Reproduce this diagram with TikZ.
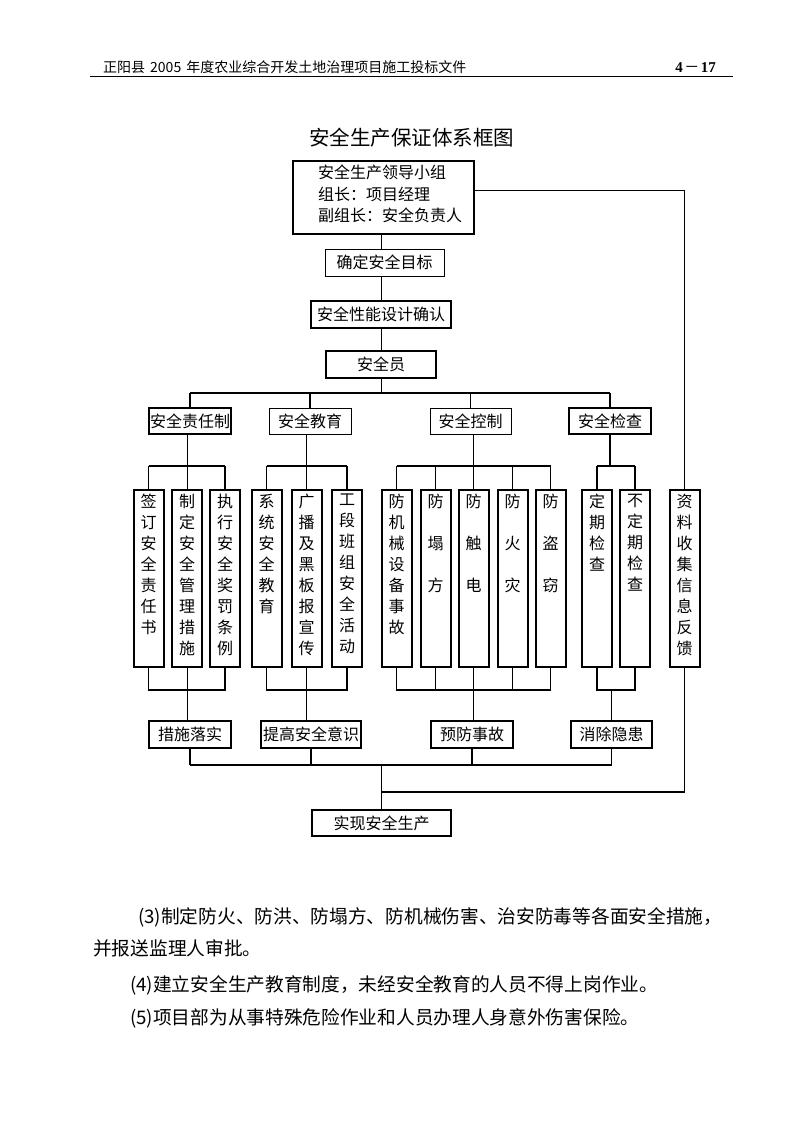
\documentclass[tikz,border=0pt]{standalone}
\usepackage{fontspec}
\setmainfont{Noto Sans CJK SC}
\newfontfamily\serifd{Liberation Serif}
\XeTeXlinebreaklocale "zh"
\XeTeXlinebreakskip=0pt plus 3pt
\tikzset{
  thk/.style={draw, line width=2pt, inner sep=0pt, font=\fontsize{16}{19}\selectfont},
  thn/.style={draw, line width=1pt, inner sep=0pt, font=\fontsize{16}{19}\selectfont},
  vcol/.style={draw, line width=2pt, inner sep=0pt, minimum width=30, minimum height=177},
  vtxt/.style={font=\fontsize{16}{21}\selectfont, align=center, inner sep=0pt, anchor=north},
  cthk/.style={line width=1.8pt},
  cthn/.style={line width=1pt},
  body/.style={anchor=base west, inner sep=0pt, font=\fontsize{18.7}{22}\selectfont}
}
\begin{document}
\begin{tikzpicture}[x=1pt,y=-1pt]
\useasboundingbox[fill=white] (0,0) rectangle (794,1123);

% header
\node[anchor=base west, inner sep=0pt, font=\fontsize{14}{16}\selectfont] (hdr) at (103,73) {正阳县\hspace{5pt}2005\hspace{5pt}年度农业综合开发土地治理项目施工投标文件};
\node[anchor=base east, inner sep=0pt, font=\fontsize{15}{17}\selectfont] (pg) at (716,73) {{\serifd\bfseries 4}{\kern1.5pt}－{\kern1.5pt}{\serifd\bfseries 17}};
\draw[line width=1.3pt] (90,76.5) -- (733,76.5);

% title
\node[inner sep=0pt, font=\fontsize{20.5}{24}\selectfont] (title) at (411.5,138) {安全生产保证体系框图};

% top chain
\node[thk, minimum width=181, minimum height=73] (top) at (383.5,197.5) {};
\node[anchor=west, align=left, inner sep=0pt, font=\fontsize{16}{21.5}\selectfont] (toptxt) at (318,194) {安全生产领导小组\\组长：项目经理\\副组长：安全负责人};
\node[thn, minimum width=119, minimum height=27] (mb1) at (384.5,262.5) {确定安全目标};
\node[thk, minimum width=140, minimum height=27] (mb2) at (381,314.5) {安全性能设计确认};
\node[thk, minimum width=110, minimum height=27] (mb3) at (381,364.5) {安全员};

% level 2
\node[thk, minimum width=82, minimum height=26] (l1) at (190,421) {安全责任制};
\node[thn, minimum width=82, minimum height=26] (l2) at (310,421) {安全教育};
\node[thn, minimum width=81, minimum height=26] (l3) at (470.5,421) {安全控制};
\node[thk, minimum width=82, minimum height=26] (l4) at (610,421) {安全检查};

% vertical columns
\foreach \n/\x/\t in {
  v11/148.5/{签\\订\\安\\全\\责\\任\\书},
  v12/187/{制\\定\\安\\全\\管\\理\\措\\施},
  v13/225/{执\\行\\安\\全\\奖\\罚\\条\\例},
  v21/266.5/{系\\统\\安\\全\\教\\育},
  v22/306.5/{广\\播\\及\\黑\\板\\报\\宣\\传},
  v23/347/{工\\段\\班\\组\\安\\全\\活\\动},
  v31/396.5/{防\\机\\械\\设\\备\\事\\故},
  v32/435.5/{防\\[21pt]塌\\[21pt]方},
  v33/473.5/{防\\[21pt]触\\[21pt]电},
  v34/512.5/{防\\[21pt]火\\[21pt]灾},
  v35/550.5/{防\\[21pt]盗\\[21pt]窃},
  v41/597/{定\\期\\检\\查},
  v42/635/{不\\定\\期\\检\\查},
  zl/684.5/{资\\料\\收\\集\\信\\息\\反\\馈}}{
  \node[vcol] (\n) at (\x,578.5) {};
  \node[vtxt] (\n t) at (\x,494) {\t};
}

% level 4
\node[thk, minimum width=82, minimum height=27] (b1) at (190,734.5) {措施落实};
\node[thk, minimum width=100, minimum height=27] (b2) at (311,734.5) {提高安全意识};
\node[thk, minimum width=82, minimum height=27] (b3) at (472,734.5) {预防事故};
\node[thk, minimum width=81, minimum height=27] (b4) at (611.5,734.5) {消除隐患};
\node[thk, minimum width=139, minimum height=26] (fin) at (381.5,823) {实现安全生产};

% bus coordinates
\coordinate (busA) at (381,393);
\coordinate (busB) at (381,466);
\coordinate (busC) at (381,690);
\coordinate (busD) at (381,765);
\coordinate (busE) at (381,792);
\coordinate (fbT) at (684.5,191);

% top chain connectors
\draw[cthn] (top.south -| mb3) -- (mb1.north -| mb3);
\draw[cthn] (mb1.south -| mb3) -- (mb2.north);
\draw[cthn] (mb2.south) -- (mb3.north);
\draw[cthn] (mb3.south) -- (busA);
\draw[cthk] (l1.north |- busA) -- (l4.north |- busA);
\foreach \l in {l1,l2,l3,l4} \draw[cthk] (\l.north |- busA) -- (\l.north);

% feedback from top
\draw[cthn] (top.east |- fbT) -- (fbT) -- (zl.north);

% group 1
\draw[cthn] (l1.south -| v12) -- (v12.north);
\draw[cthk] (v11.north |- busB) -- (v13.north |- busB);
\draw[cthk] (v11.north |- busB) -- (v11.north);
\draw[cthk] (v13.north |- busB) -- (v13.north);
% group 2
\draw[cthk] (l2.south -| v22) -- (v22.north);
\draw[cthk] (v21.north |- busB) -- (v23.north |- busB);
\draw[cthk] (v21.north |- busB) -- (v21.north);
\draw[cthk] (v23.north |- busB) -- (v23.north);
% group 3
\draw[cthk] (l3.south -| v33) -- (v33.north);
\draw[cthk] (v31.north |- busB) -- (v35.north |- busB);
\foreach \v in {v31,v32,v34,v35} \draw[cthk] (\v.north |- busB) -- (\v.north);
% group 4
\draw[cthk] (l4.south) -- (l4.south |- busB);
\draw[cthk] (v41.north |- busB) -- (v42.north |- busB);
\draw[cthk] (v41.north |- busB) -- (v41.north);
\draw[cthk] (v42.north |- busB) -- (v42.north);

% lower buses
\draw[cthk] (v11.south) -- (v11.south |- busC) -- (v13.south |- busC) -- (v13.south);
\draw[cthn] (v12.south) -- (b1.north -| v12);
\draw[cthk] (v21.south) -- (v21.south |- busC) -- (v23.south |- busC) -- (v23.south);
\draw[cthk] (v22.south) -- (b2.north -| v22);
\draw[cthk] (v31.south) -- (v31.south |- busC) -- (v35.south |- busC) -- (v35.south);
\foreach \v in {v32,v34} \draw[cthk] (\v.south) -- (\v.south |- busC);
\draw[cthk] (v33.south) -- (b3.north -| v33);
\draw[cthk] (v41.south) -- (v41.south |- busC) -- (v42.south |- busC) -- (v42.south);
\draw[cthk] (b4.north) -- (b4.north |- busC);

% bottom bus
\draw[cthk] (b1.south |- busD) -- (b4.south |- busD);
\foreach \b in {b1,b2,b3,b4} \draw[cthk] (\b.south) -- (\b.south |- busD);
\draw[cthn] (busD) -- (fin.north |- busD) -- (fin.north);
\draw[cthk] (zl.south) -- (zl.south |- busE) -- (fin.north |- busE);

% body text
\node[body] (p1) at (138,923) {\makebox[597pt][s]{(3)制定防火、防洪、防塌方、防机械伤害、治安防毒等各面安全措施，}};
\node[body] (p2) at (93,955) {并报送监理人审批。};
\node[body] (p3) at (130,991) {\makebox[544pt][s]{(4)建立安全生产教育制度，未经安全教育的人员不得上岗作业。}};
\node[body] (p4) at (130,1024) {\makebox[522pt][s]{(5)项目部为从事特殊危险作业和人员办理人身意外伤害保险。}};
\end{tikzpicture}
\end{document}
